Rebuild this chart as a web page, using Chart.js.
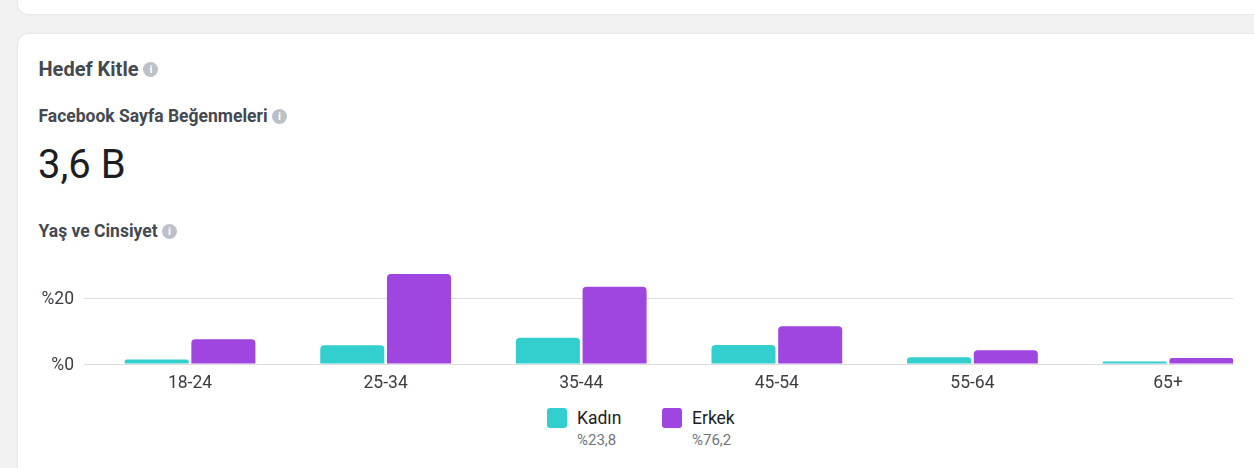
<!DOCTYPE html>
<html lang="tr">
<head>
<meta charset="utf-8">
<title>Hedef Kitle</title>
<script src="https://cdn.jsdelivr.net/npm/chart.js@4"></script>
<style>
  html, body { margin: 0; padding: 0; }
  body { width: 1254px; height: 468px; overflow: hidden; background: #f2f2f2; font-family: Roboto, sans-serif; position: relative; }
  .card { position: absolute; left: 18px; width: 1300px; background: #fff; border-radius: 10px; box-shadow: 0 0 3px rgba(0,0,0,0.10); }
  .head { position: absolute; left: 38.5px; color: #444950; font-weight: 700; white-space: nowrap; line-height: 20px; }
  .info { display: inline-block; width: 15px; height: 15px; line-height: 15px; border-radius: 50%; background: #bcc0c7; color: #fff; font-size: 11px; font-weight: 700; text-align: center; vertical-align: 2px; }
  #big { position: absolute; left: 38px; top: 142px; font-size: 40px; font-weight: 400; line-height: 46px; color: #1c1e21; }
  #chartWrap { position: absolute; left: 38px; top: 256px; width: 1195px; height: 140px; }
  .legend { position: absolute; top: 408px; }
  .swatch { position: absolute; left: 0; top: 0; width: 20px; height: 20px; border-radius: 3px; }
  .name { position: absolute; left: 30px; top: 0; font-size: 17.5px; line-height: 20px; color: #1c1e21; }
  .share { position: absolute; left: 30px; top: 24px; font-size: 15px; line-height: 16px; color: #70757a; }
</style>
</head>
<body>
<div class="card" style="top:-40px;height:54px"></div>
<div class="card" style="top:34px;height:480px"></div>

<div class="head" style="top:59px;font-size:20px">Hedef Kitle <span class="info" style="vertical-align:3px">i</span></div>
<div class="head" style="top:106px;font-size:17.5px">Facebook Sayfa Beğenmeleri <span class="info">i</span></div>
<div id="big">3,6 B</div>
<div class="head" style="top:221px;font-size:17.5px">Yaş ve Cinsiyet <span class="info">i</span></div>

<div id="chartWrap"><canvas id="ageChart" width="1195" height="140"></canvas></div>
<div id="legendBox"></div>

<script>
const categories = ['18-24', '25-34', '35-44', '45-54', '55-64', '65+'];
const seriesNames = ['Kadın', 'Erkek'];
const kadin = [1.4, 5.7, 8.0, 5.8, 2.1, 0.8];
const erkek = [7.6, 27.5, 23.6, 11.5, 4.2, 1.8];
const shares = ['%23,8', '%76,2'];
const yTickValues = [0, 20];
const colors = ['#33cfcf', '#9f45e0'];

const toPoints = values => values.map((v, i) => ({ x: i, y: v }));

new Chart(document.getElementById('ageChart').getContext('2d'), {
  type: 'bar',
  data: {
    datasets: [
      { label: seriesNames[0], data: toPoints(kadin), backgroundColor: colors[0] },
      { label: seriesNames[1], data: toPoints(erkek), backgroundColor: colors[1] }
    ]
  },
  options: {
    responsive: false,
    animation: false,
    devicePixelRatio: 1,
    layout: { padding: 0, autoPadding: false },
    categoryPercentage: 0.682,
    barPercentage: 0.96,
    borderRadius: { topLeft: 4, topRight: 4, bottomLeft: 0, bottomRight: 0 },
    borderSkipped: false,
    plugins: { legend: { display: false }, tooltip: { enabled: false } },
    scales: {
      x: {
        type: 'linear',
        offset: false,
        // groups sit off-centre: the last one ends flush with the grid
        min: -0.542,
        max: 5.332,
        afterBuildTicks: scale => { scale.ticks = categories.map((c, i) => ({ value: i })); },
        afterFit: scale => { scale.height = 32; },
        grid: { display: false },
        border: { display: false },
        ticks: {
          autoSkip: false,
          maxRotation: 0,
          padding: 1,
          color: '#3a3d42',
          font: { family: 'Roboto', size: 17.5 },
          callback: value => categories[value]
        }
      },
      y: {
        min: 0,
        max: 33,
        afterBuildTicks: scale => { scale.ticks = yTickValues.map(v => ({ value: v })); },
        afterFit: scale => {
          scale.width = 46;
          scale.paddingTop = 0;
          scale.paddingBottom = 0;
        },
        grid: {
          drawTicks: false,
          color: '#dcdcde',
          lineWidth: 1
        },
        border: { display: false },
        ticks: {
          padding: 10,
          color: '#3a3d42',
          // empty first line + small line height nudges the label down a bit
          font: { family: 'Roboto', size: 17.5, lineHeight: '3px' },
          callback: value => ['', '%' + value]
        }
      }
    }
  }
});

// legend with the share under each name
const legendLeft = [547, 662];
const legendBox = document.getElementById('legendBox');
seriesNames.forEach((name, i) => {
  const item = document.createElement('div');
  item.className = 'legend';
  item.style.left = legendLeft[i] + 'px';
  item.innerHTML = '<div class="swatch" style="background:' + colors[i] + '"></div>' +
    '<div class="name">' + name + '</div><div class="share">' + shares[i] + '</div>';
  legendBox.appendChild(item);
});
</script>
</body>
</html>
